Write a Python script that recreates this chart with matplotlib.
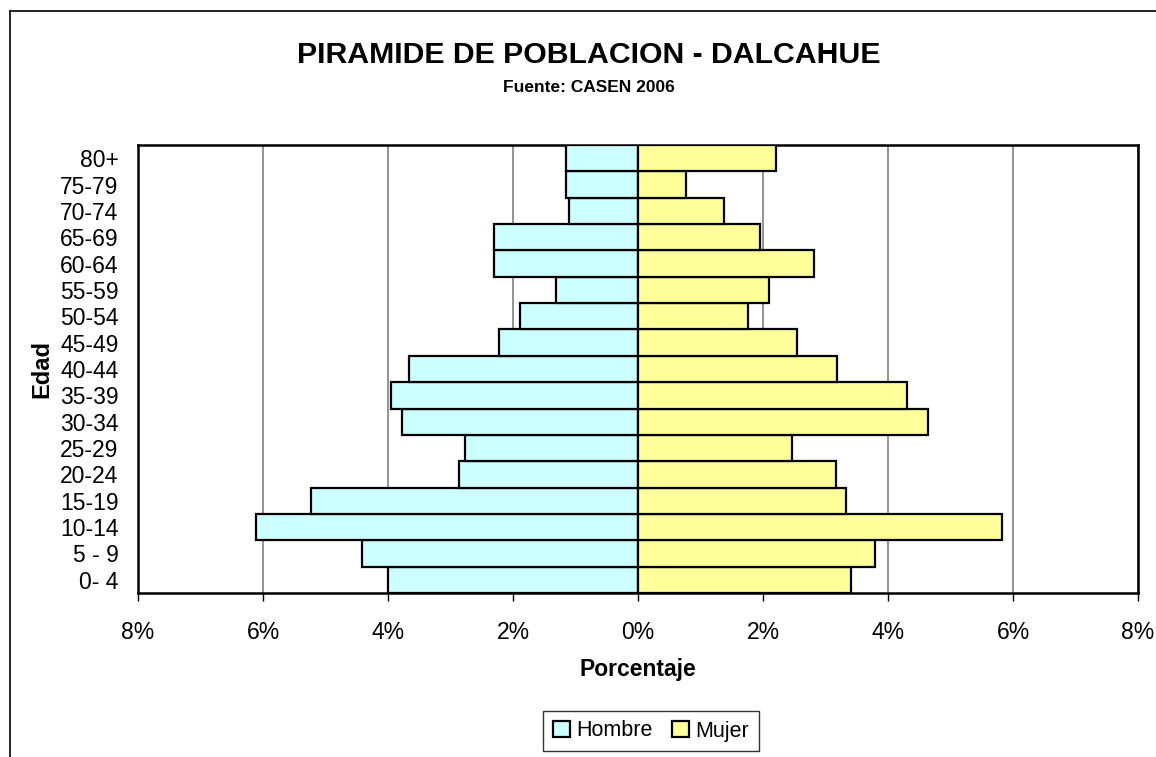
import matplotlib
matplotlib.use("Agg")
import matplotlib.pyplot as plt
from matplotlib.lines import Line2D
from matplotlib.ticker import FuncFormatter, MultipleLocator
import numpy as np

plt.rcParams['font.family'] = ['Liberation Sans', 'DejaVu Sans']

age_groups = ["0- 4", "5 - 9", "10-14", "15-19", "20-24", "25-29", "30-34",
              "35-39", "40-44", "45-49", "50-54", "55-59", "60-64", "65-69",
              "70-74", "75-79", "80+"]
hombre = [4.00, 4.42, 6.12, 5.24, 2.87, 2.77, 3.78, 3.96, 3.66, 2.22, 1.89,
          1.31, 2.31, 2.31, 1.10, 1.16, 1.16]
mujer = [3.40, 3.79, 5.82, 3.33, 3.16, 2.46, 4.64, 4.31, 3.18, 2.55, 1.76,
         2.10, 2.82, 1.95, 1.37, 0.76, 2.21]

fig = plt.figure(figsize=(11.56, 7.57), dpi=100)
ax = fig.add_axes([138/1156, 1-593/757, 1000/1156, 448/757])

y = np.arange(len(age_groups))
ax.barh(y, [-v for v in hombre], height=1.0, color="#CCFFFF", edgecolor="black",
        linewidth=1.6, label="Hombre", zorder=3)
ax.barh(y, mujer, height=1.0, color="#FFFF99", edgecolor="black",
        linewidth=1.6, label="Mujer", zorder=3)

ax.set_xlim(-8, 8)
ax.set_ylim(-0.5, len(age_groups) - 0.5)
ax.xaxis.set_major_locator(MultipleLocator(2))
ax.xaxis.set_major_formatter(FuncFormatter(lambda v, p: f"{abs(v):.0f}%"))
ax.set_yticks(y)
ax.set_yticklabels(age_groups)
ax.tick_params(axis='y', length=0, labelsize=16.5, pad=14)
ax.tick_params(axis='x', length=6, width=1, direction='out', labelsize=16.5, pad=14)
ax.grid(axis='x', color='#808080', linewidth=1.2, zorder=0)
for s in ax.spines.values():
    s.set_linewidth(1.8)
    s.set_color('black')

ax.set_xlabel("Porcentaje", fontsize=16.5, fontweight='bold', labelpad=10)
ax.set_ylabel("Edad", fontsize=17, fontweight='bold', labelpad=5)

fig.text(589/1156, 1-55/757, "PIRAMIDE DE POBLACION - DALCAHUE", ha='center',
         va='center', fontsize=21.8, fontweight='bold')
fig.text(589/1156, 1-87/757, "Fuente: CASEN 2006", ha='center', va='center',
         fontsize=12.5, fontweight='bold')

leg = fig.legend(loc='center', bbox_to_anchor=(651/1156, 1-731/757), ncol=2,
                 fontsize=15.5, frameon=True, fancybox=False, edgecolor='black',
                 handlelength=0.8, handleheight=0.8, handletextpad=0.3,
                 columnspacing=0.9, borderpad=0.45)
leg.get_frame().set_linewidth(1.0)

fig.add_artist(Line2D([10/1156, 1], [1-11/757, 1-11/757], color='black', lw=1.2))
fig.add_artist(Line2D([10/1156, 10/1156], [0, 1-11/757], color='black', lw=1.2))

fig.savefig("out.png", dpi=100)
